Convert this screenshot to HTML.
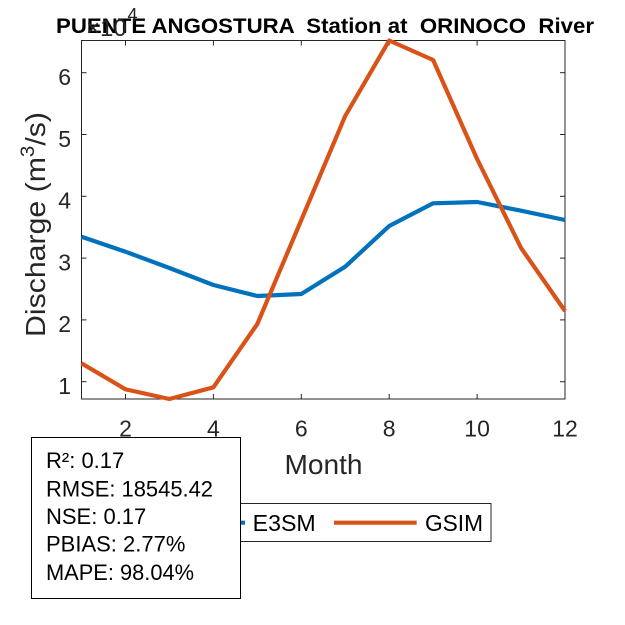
<!DOCTYPE html>
<html>
<head>
<meta charset="utf-8">
<style>
html,body{margin:0;padding:0;background:#fff;}
svg{display:block;}
text{font-family:"Liberation Sans",Arial,sans-serif;}
</style>
</head>
<body>
<svg width="625" height="625" viewBox="0 0 625 625" xmlns="http://www.w3.org/2000/svg">
<rect width="625" height="625" fill="#fff"/>

<!-- axes box -->
<rect x="81.5" y="40.5" width="483.5" height="358.5" fill="none" stroke="#262626" stroke-width="1"/>

<!-- x ticks (bottom & top) -->
<g stroke="#262626" stroke-width="1">
<line x1="125.5" y1="399" x2="125.5" y2="394"/>
<line x1="213.4" y1="399" x2="213.4" y2="394"/>
<line x1="301.3" y1="399" x2="301.3" y2="394"/>
<line x1="389.2" y1="399" x2="389.2" y2="394"/>
<line x1="477.1" y1="399" x2="477.1" y2="394"/>
<line x1="125.5" y1="40.5" x2="125.5" y2="45.5"/>
<line x1="213.4" y1="40.5" x2="213.4" y2="45.5"/>
<line x1="301.3" y1="40.5" x2="301.3" y2="45.5"/>
<line x1="389.2" y1="40.5" x2="389.2" y2="45.5"/>
<line x1="477.1" y1="40.5" x2="477.1" y2="45.5"/>
<!-- y ticks left & right -->
<line x1="81.5" y1="72.7" x2="86.5" y2="72.7"/>
<line x1="81.5" y1="134.5" x2="86.5" y2="134.5"/>
<line x1="81.5" y1="196.3" x2="86.5" y2="196.3"/>
<line x1="81.5" y1="258.1" x2="86.5" y2="258.1"/>
<line x1="81.5" y1="319.9" x2="86.5" y2="319.9"/>
<line x1="81.5" y1="381.7" x2="86.5" y2="381.7"/>
<line x1="565" y1="72.7" x2="560" y2="72.7"/>
<line x1="565" y1="134.5" x2="560" y2="134.5"/>
<line x1="565" y1="196.3" x2="560" y2="196.3"/>
<line x1="565" y1="258.1" x2="560" y2="258.1"/>
<line x1="565" y1="319.9" x2="560" y2="319.9"/>
<line x1="565" y1="381.7" x2="560" y2="381.7"/>
</g>

<!-- y tick labels -->
<g fill="#262626" font-size="23" text-anchor="end">
<text x="71" y="85">6</text>
<text x="71" y="146.8">5</text>
<text x="71" y="208.6">4</text>
<text x="71" y="270.4">3</text>
<text x="71" y="332.2">2</text>
<text x="71" y="394">1</text>
</g>

<!-- x tick labels -->
<g fill="#262626" font-size="23" text-anchor="middle">
<text x="125.5" y="436.5">2</text>
<text x="213.4" y="436.5">4</text>
<text x="301.3" y="436.5">6</text>
<text x="389.2" y="436.5">8</text>
<text x="477.1" y="436.5">10</text>
<text x="565" y="436.5">12</text>
</g>

<!-- title -->
<text x="56" y="33" font-size="21.5" font-weight="bold" fill="#000" textLength="538" lengthAdjust="spacingAndGlyphs" xml:space="preserve">PUENTE ANGOSTURA  Station at  ORINOCO  River</text>

<!-- exponent (drawn over title like reference) -->
<text x="86" y="36" fill="#262626" font-size="24">×10</text>
<text x="127.5" y="21" fill="#262626" font-size="18">4</text>

<!-- axis labels -->
<text x="323.5" y="474" font-size="28" fill="#262626" text-anchor="middle" textLength="78" lengthAdjust="spacingAndGlyphs">Month</text>
<text transform="translate(45,224.5) rotate(-90)" font-size="28" fill="#262626" text-anchor="middle" textLength="225" lengthAdjust="spacingAndGlyphs">Discharge (m<tspan font-size="19" dy="-11">3</tspan><tspan dy="11">/s)</tspan></text>

<!-- series -->
<polyline fill="none" stroke="#0072BD" stroke-width="4.2" stroke-linejoin="round" points="81.5,236.7 125.5,251.7 169.4,268 213.4,285 257.3,296 301.3,294 345.2,266.7 389.2,226 433.1,203.3 477.1,202 521.1,210.7 565,220"/>
<polyline fill="none" stroke="#D95319" stroke-width="4.2" stroke-linejoin="round" points="81.5,363.3 125.5,389.3 169.4,399 213.4,387.3 257.3,324 301.3,220 345.2,116 389.2,40.5 433.1,60 477.1,159 521.1,248 565,311"/>

<!-- legend -->
<rect x="150.5" y="503.5" width="340.5" height="38" fill="#fff" stroke="#262626" stroke-width="1"/>
<line x1="162" y1="522.7" x2="245" y2="522.7" stroke="#0072BD" stroke-width="4.2"/>
<text x="252.7" y="531" font-size="23" fill="#000" textLength="63" lengthAdjust="spacingAndGlyphs">E3SM</text>
<line x1="334" y1="522.7" x2="416.7" y2="522.7" stroke="#D95319" stroke-width="4.2"/>
<text x="425" y="531" font-size="23" fill="#000" textLength="58" lengthAdjust="spacingAndGlyphs">GSIM</text>

<!-- stats box -->
<rect x="31.5" y="437.5" width="209" height="161" fill="#fff" stroke="#000" stroke-width="1"/>
<g font-size="22" fill="#000">
<text x="46" y="468">R²: 0.17</text>
<text x="46" y="496.5" textLength="167" lengthAdjust="spacingAndGlyphs">RMSE: 18545.42</text>
<text x="46" y="524">NSE: 0.17</text>
<text x="46" y="551.7">PBIAS: 2.77%</text>
<text x="46" y="580" textLength="148" lengthAdjust="spacingAndGlyphs">MAPE: 98.04%</text>
</g>
</svg>
</body>
</html>
